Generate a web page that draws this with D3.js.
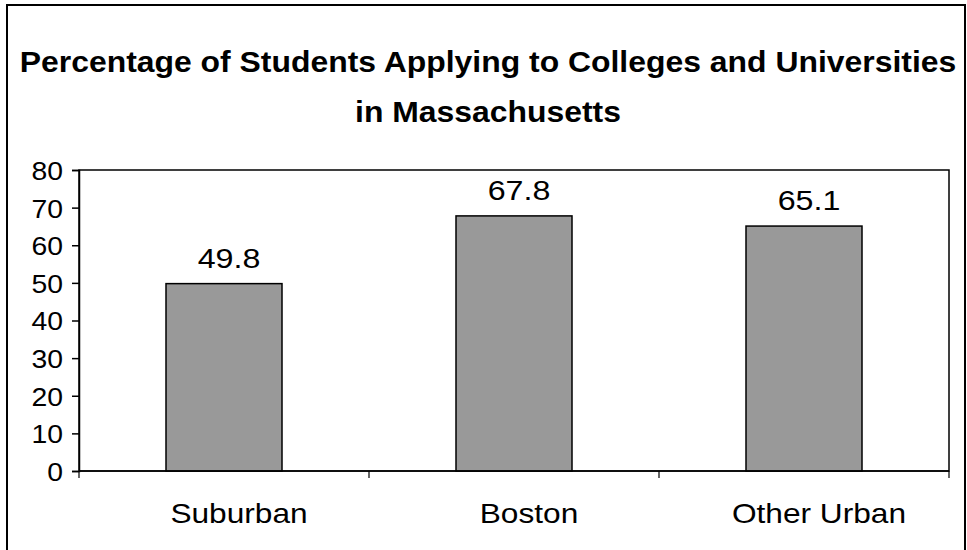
<!DOCTYPE html>
<meta charset="utf-8">
<style>
body { margin: 0; background: #fff; }
text { fill: #000; font-family: "Liberation Sans", Arial, sans-serif; }
</style>
<svg width="967" height="550"></svg>
<script src="https://d3js.org/d3.v7.min.js"></script>
<script>
const categories = ["Suburban", "Boston", "Other Urban"]
const values = [49.8, 67.8, 65.1]
const yTicks = [0, 10, 20, 30, 40, 50, 60, 70, 80]
const titleLines = ["Percentage of Students Applying to Colleges and Universities", "in Massachusetts"]

const data = categories.map((c, i) => ({ category: c, value: values[i] }))

const svg = d3.select("svg"),
    margin = {top: 170, right: 18, bottom: 79, left: 79},
    width = +svg.attr("width") - margin.left - margin.right,
    height = +svg.attr("height") - margin.top - margin.bottom

// the original picture is a bit wider than tall, so glyphs are stretched sideways
function widen(stretch) {
  return sel => sel.each(function() {
    const len = this.getComputedTextLength()
    d3.select(this)
      .attr("textLength", len * stretch)
      .attr("lengthAdjust", "spacingAndGlyphs")
  })
}

// outer frame (bottom runs off the picture)
svg.append("rect")
    .attr("x", 7).attr("y", 5)
    .attr("width", 958).attr("height", 560)
    .attr("fill", "none")
    .attr("stroke", "#000")
    .attr("stroke-width", 2)

svg.selectAll("text.title")
  .data(titleLines)
  .enter().append("text")
    .attr("class", "title")
    .attr("x", 488)
    .attr("y", (d, i) => 72 + i * 50)
    .attr("text-anchor", "middle")
    .style("font-weight", "bold")
    .style("font-size", "29px")
    .text(d => d)
    .call(widen(1.1))

const g = svg.append("g").attr("transform", `translate(${margin.left},${margin.top})`)

const x = d3.scaleBand()
    .domain(categories)
    .range([0, width])
    .paddingInner(0.6)
    .paddingOuter(0.3)

const xEdges = d3.scaleBand().domain(categories).range([0, width])

const y = d3.scaleLinear()
    .domain([0, 80])
    .range([height, 0])

// plot area box
g.append("rect")
    .attr("width", width)
    .attr("height", height)
    .attr("fill", "#fff")
    .attr("stroke", "#000")
    .attr("stroke-width", 1.5)

g.selectAll(".bar")
  .data(data)
  .enter().append("rect")
    .attr("class", "bar")
    .attr("x", d => x(d.category))
    .attr("y", d => y(d.value))
    .attr("width", x.bandwidth())
    .attr("height", d => y(0) - y(d.value))
    .attr("fill", "#999999")
    .attr("stroke", "#000")
    .attr("stroke-width", 1.5)

g.selectAll(".val")
  .data(data)
  .enter().append("text")
    .attr("class", "val")
    .attr("x", d => x(d.category) + x.bandwidth() / 2 + 5)
    .attr("y", d => y(d.value) - 16)
    .attr("text-anchor", "middle")
    .style("font-size", "28px")
    .text(d => d.value.toFixed(1))
    .call(widen(1.15))

// y axis
const yAxis = g.append("g")
    .call(d3.axisLeft(y).tickValues(yTicks).tickSize(7).tickPadding(9))
yAxis.select(".domain").attr("stroke", "#000").attr("stroke-width", 1.5)
yAxis.selectAll(".tick line").attr("stroke", "#000").attr("stroke-width", 1.5)
yAxis.selectAll("text")
    .attr("dy", "0.36em")
    .style("font-size", "26px")
    .style("font-family", "'Liberation Sans', Arial, sans-serif")
    .call(widen(1.09))

// x axis: ticks at category boundaries
const xAxis = g.append("g").attr("transform", `translate(0,${height})`)
xAxis.append("line")
    .attr("x1", 0).attr("x2", width)
    .attr("stroke", "#000").attr("stroke-width", 1.5)
const edges = categories.map(c => xEdges(c)).concat([width])
xAxis.selectAll(".edge")
  .data(edges)
  .enter().append("line")
    .attr("x1", d => d).attr("x2", d => d)
    .attr("y1", 0).attr("y2", 7)
    .attr("stroke", "#000").attr("stroke-width", 1.2)
xAxis.selectAll(".cat")
  .data(categories)
  .enter().append("text")
    .attr("x", d => xEdges(d) + xEdges.bandwidth() / 2 + 15)
    .attr("y", 52)
    .attr("text-anchor", "middle")
    .style("font-size", "27.5px")
    .text(d => d)
    .call(widen(1.15))
</script>
